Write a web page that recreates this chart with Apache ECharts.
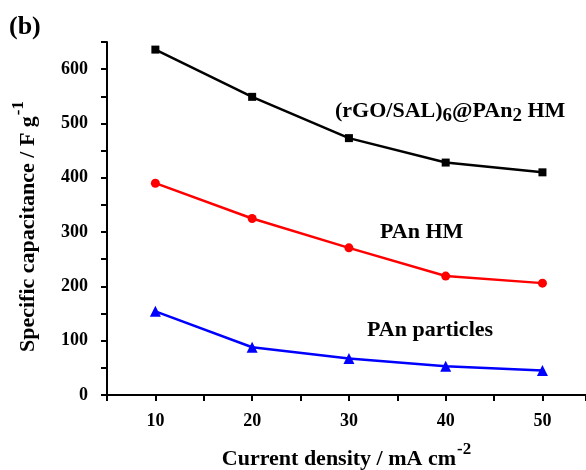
<!DOCTYPE html>
<html><head><meta charset="utf-8">
<script src="https://cdn.jsdelivr.net/npm/echarts@6/dist/echarts.min.js"></script>
<style>html,body{margin:0;padding:0;background:#fff}#c{width:586px;height:470px}</style>
</head><body><div id="c"></div>
<script>
var currentDensity = [10, 20, 30, 40, 50];
var rgoHM = [636, 549, 473, 428, 410];
var panHM = [390, 325, 271, 219, 206];
var panParticles = [154, 88, 67, 53, 45];
var xTickLabels = [10, 20, 30, 40, 50];
var yTickLabels = [0, 100, 200, 300, 400, 500, 600];

function pairs(ys){ return currentDensity.map(function(x,i){return [x, ys[i]];}); }
var F = '"Liberation Serif","Times New Roman",serif';
var chart = echarts.init(document.getElementById('c'));
chart.setOption({
  animation:false,
  backgroundColor:'#fff',
  grid:{left:107, right:0, top:42, bottom:75, containLabel:false, outerBoundsMode:'none'},
  xAxis:{
    type:'value', min:5, max:54.5, interval:5,
    axisLine:{lineStyle:{color:'#000', width:2}},
    axisTick:{show:true, length:6, lineStyle:{color:'#000', width:2}},
    splitLine:{show:false},
    axisLabel:{margin:17, color:'#000', fontFamily:F, fontWeight:'bold', fontSize:18,
      formatter:function(v){return xTickLabels.indexOf(v)>=0 ? String(v) : '';}},
    name:'{b|Current density / mA cm}{s|-2}', nameLocation:'middle', nameGap:46,
    nameTextStyle:{rich:{
      b:{fontFamily:F, fontWeight:'bold', fontSize:22, color:'#000', verticalAlign:'bottom', lineHeight:26},
      s:{fontFamily:F, fontWeight:'bold', fontSize:17, color:'#000', verticalAlign:'top', padding:[0,0,12,1]}
    }}
  },
  yAxis:{
    type:'value', min:0, max:650, interval:50,
    axisLine:{show:true, lineStyle:{color:'#000', width:2}},
    axisTick:{show:true, length:6, lineStyle:{color:'#000', width:2}},
    splitLine:{show:false},
    axisLabel:{margin:19, color:'#000', fontFamily:F, fontWeight:'bold', fontSize:18,
      formatter:function(v){return yTickLabels.indexOf(v)>=0 ? String(v) : '';}},
    name:'{b|Specific capacitance / F g}{s|-1}', nameLocation:'middle', nameRotate:90, nameGap:68,
    nameTextStyle:{rich:{
      b:{fontFamily:F, fontWeight:'bold', fontSize:22, color:'#000', verticalAlign:'bottom', lineHeight:26},
      s:{fontFamily:F, fontWeight:'bold', fontSize:17, color:'#000', verticalAlign:'top', padding:[0,16,12,1]}
    }}
  },
  series:[
    {type:'line', data:pairs(rgoHM), symbol:'rect', symbolSize:8,
      lineStyle:{color:'#000', width:2.5}, itemStyle:{color:'#000'}},
    {type:'line', data:pairs(panHM), symbol:'circle', symbolSize:9,
      lineStyle:{color:'#ff0000', width:2.5}, itemStyle:{color:'#ff0000'}},
    {type:'line', data:pairs(panParticles), symbol:'triangle', symbolSize:11,
      lineStyle:{color:'#0000ff', width:2.5}, itemStyle:{color:'#0000ff'}}
  ],
  graphic:[
    {type:'text', left:9, top:14, style:{text:'(b)', font:'bold 26px '+F, fill:'#000'}},
    {type:'text', left:335, top:100, style:{
      text:'{b|(rGO/SAL)}{s|6}{b|@PAn}{s|2}{b| HM}',
      rich:{b:{font:'bold 22px '+F, fill:'#000'}, s:{font:'bold 19px '+F, fill:'#000', padding:[10,0,0,0]}}
    }},
    {type:'text', left:380, top:221, style:{text:'PAn HM', font:'bold 22px '+F, fill:'#000'}},
    {type:'text', left:367, top:319, style:{text:'PAn particles', font:'bold 22px '+F, fill:'#000'}}
  ]
});
</script></body></html>
